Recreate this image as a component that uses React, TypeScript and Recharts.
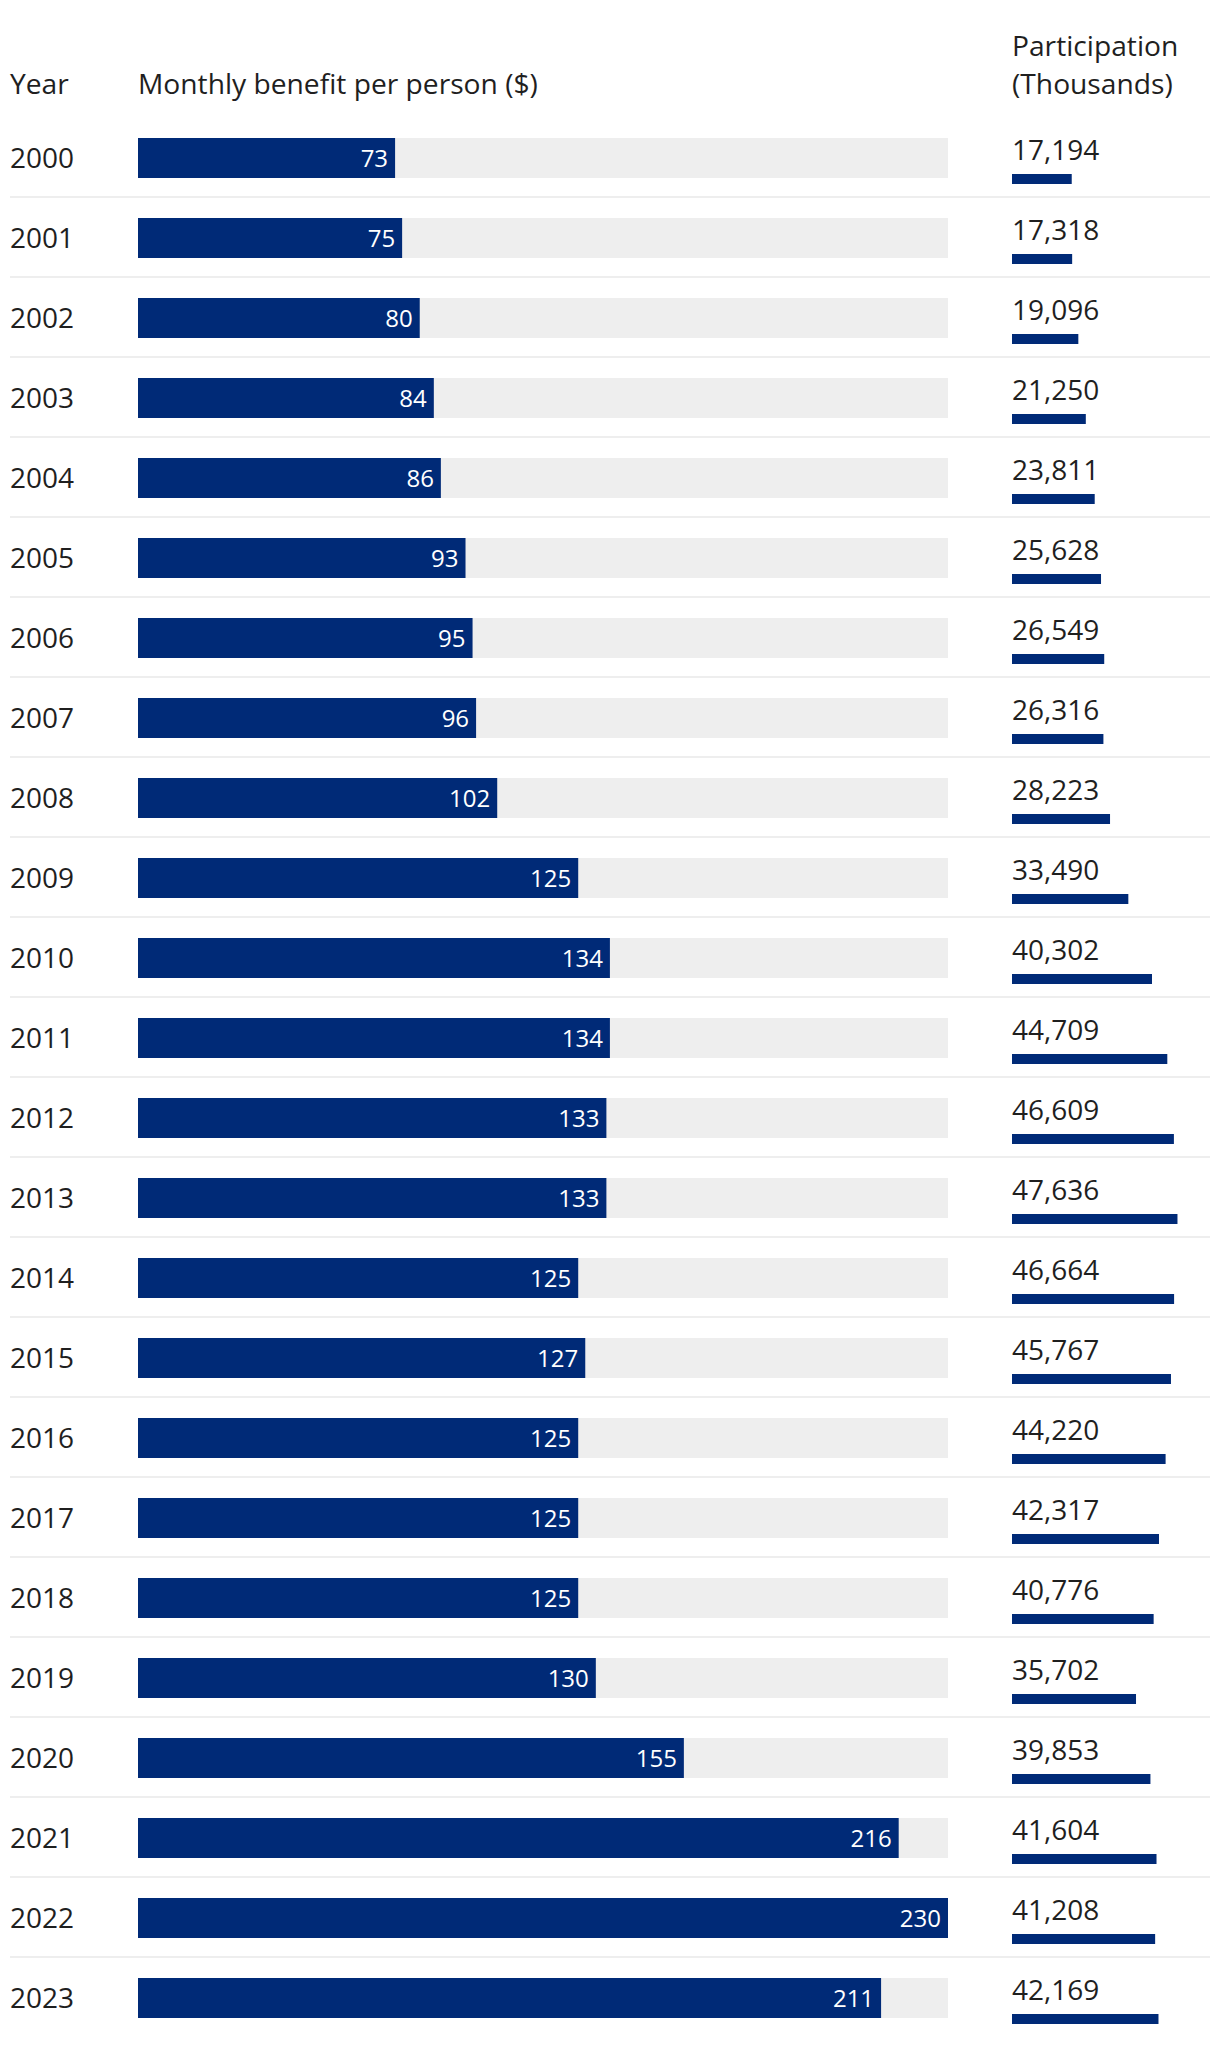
import React from 'react'
import { BarChart, Bar, XAxis, YAxis, CartesianGrid, LabelList } from 'recharts'

const years = [
  '2000', '2001', '2002', '2003', '2004', '2005', '2006', '2007', '2008', '2009', '2010', '2011',
  '2012', '2013', '2014', '2015', '2016', '2017', '2018', '2019', '2020', '2021', '2022', '2023',
]
const benefit = [73, 75, 80, 84, 86, 93, 95, 96, 102, 125, 134, 134, 133, 133, 125, 127, 125, 125, 125, 130, 155, 216, 230, 211]
const participation = [
  17194, 17318, 19096, 21250, 23811, 25628, 26549, 26316, 28223, 33490, 40302, 44709,
  46609, 47636, 46664, 45767, 44220, 42317, 40776, 35702, 39853, 41604, 41208, 42169,
]

const NAVY = '#002a77'
const TRACK = '#eeeeee'
const INK = '#1f1f1f'
const FONT = "'Open Sans', 'Noto Sans', sans-serif"

const rows = years.map((year, i) => ({ year, benefit: benefit[i], participation: participation[i] }))

const fmt = (n: number) => n.toLocaleString('en-US')

// separators sit on the band edges between rows
const rowEdges = ({ yAxis }: any) => {
  const s = yAxis?.scale
  let map: ((v: string) => number) | null = null
  if (typeof s === 'function') map = (v) => s(v)
  else if (s && typeof s.map === 'function') map = (v) => s.map(v)
  if (!map) return []
  return years.slice(1).map((y) => map!(y))
}

const ParticipationLabel = (props: any) => {
  const { x, y, value } = props
  return (
    <text x={x} y={y - 14} fill={INK} fontSize={28} fontFamily={FONT}>
      {fmt(value)}
    </text>
  )
}

export default function App() {
  return (
    <div style={{ position: 'relative', width: 1204, height: 2038, overflow: 'hidden', fontFamily: FONT, color: INK }}>
      <div style={{ position: 'absolute', left: 2, top: 55.5, fontSize: 28.2, lineHeight: '38px' }}>Year</div>
      <div style={{ position: 'absolute', left: 130, top: 55.5, fontSize: 28.2, lineHeight: '38px' }}>
        Monthly benefit per person ($)
      </div>
      <div style={{ position: 'absolute', left: 1004, top: 17.5, fontSize: 28.2, lineHeight: '38px' }}>
        Participation
        <br />
        (Thousands)
      </div>

      {/* participation column + row separators */}
      <div style={{ position: 'absolute', left: 0, top: 0 }}>
        <BarChart
          width={1204}
          height={2051}
          data={rows}
          layout="vertical"
          margin={{ top: 109, right: 2, bottom: 0, left: 2 }}
          barSize={10}
        >
          <XAxis type="number" domain={[0, 57000]} hide padding={{ left: 1002, right: 0 }} />
          <YAxis yAxisId="rows" type="category" dataKey="year" hide padding={{ top: 0, bottom: 22 }} />
          <YAxis yAxisId="p" type="category" dataKey="year" hide padding={{ top: 22, bottom: 0 }} />
          <CartesianGrid
            yAxisId="rows"
            vertical={false}
            stroke={TRACK}
            strokeWidth={2}
            horizontalCoordinatesGenerator={rowEdges}
          />
          <Bar yAxisId="p" dataKey="participation" fill={NAVY} isAnimationActive={false}>
            <LabelList dataKey="participation" content={ParticipationLabel} />
          </Bar>
        </BarChart>
      </div>

      {/* benefit bars with grey track */}
      <div style={{ position: 'absolute', left: 0, top: 0 }}>
        <BarChart
          width={1204}
          height={2038}
          data={rows}
          layout="vertical"
          margin={{ top: 110, right: 264, bottom: 8, left: 0 }}
          barSize={40}
        >
          <XAxis type="number" domain={[0, 230]} hide />
          <YAxis
            type="category"
            dataKey="year"
            width={130}
            axisLine={false}
            tickLine={false}
            tickSize={0}
            tickMargin={0}
            tick={{ fill: INK, fontSize: 28, textAnchor: 'start', dx: -128 }}
          />
          <Bar dataKey="benefit" fill={NAVY} background={{ fill: TRACK }} isAnimationActive={false}>
            <LabelList dataKey="benefit" position="insideRight" offset={7} fill="#ffffff" fontSize={24} />
          </Bar>
        </BarChart>
      </div>
    </div>
  )
}
